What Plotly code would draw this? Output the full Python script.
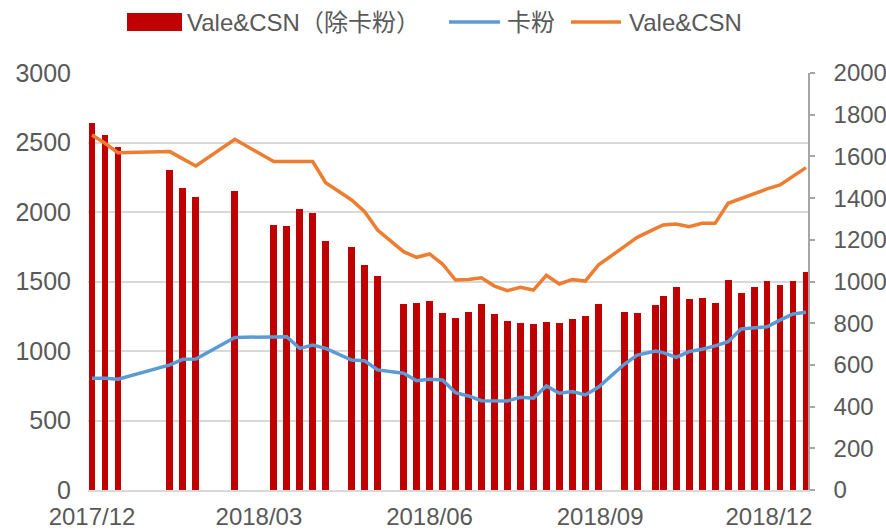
import plotly.graph_objects as go

dates = [
    "2017-12-01", "2017-12-08", "2017-12-15", "2018-01-12", "2018-01-19", "2018-01-26",
    "2018-02-16", "2018-03-09", "2018-03-16", "2018-03-23", "2018-03-30", "2018-04-06",
    "2018-04-20", "2018-04-27", "2018-05-04", "2018-05-18", "2018-05-25", "2018-06-01",
    "2018-06-08", "2018-06-15", "2018-06-22", "2018-06-29", "2018-07-06", "2018-07-13",
    "2018-07-20", "2018-07-27", "2018-08-03", "2018-08-10", "2018-08-17", "2018-08-24",
    "2018-08-31", "2018-09-14", "2018-09-21", "2018-10-01", "2018-10-05", "2018-10-12",
    "2018-10-19", "2018-10-26", "2018-11-02", "2018-11-09", "2018-11-16", "2018-11-23",
    "2018-11-30", "2018-12-07", "2018-12-14", "2018-12-21",
]

vale_csn_ex = [
    2640, 2553, 2465, 2302, 2170, 2105, 2153, 1908, 1901, 2024, 1995, 1793,
    1746, 1618, 1541, 1336, 1347, 1362, 1276, 1235, 1283, 1338, 1264, 1216,
    1204, 1194, 1206, 1199, 1230, 1254, 1340, 1278, 1275, 1331, 1395, 1458,
    1372, 1381, 1343, 1510, 1415, 1463, 1503, 1475, 1503, 1570,
]

kafen = [
    536, 536, 531, 600, 627, 628, 732, 732, 735, 679, 695, 679,
    623, 620, 576, 560, 524, 531, 528, 467, 451, 428, 428, 427,
    445, 440, 499, 464, 472, 456, 493, 603, 647, 667, 659, 636,
    664, 675, 691, 711, 772, 779, 783, 815, 844, 852,
]

vale_csn = [
    1703, 1663, 1618, 1623, 1588, 1554, 1682, 1575, 1575, 1575, 1575, 1474,
    1391, 1335, 1247, 1143, 1116, 1132, 1084, 1007, 1010, 1018, 978, 956,
    972, 959, 1030, 988, 1010, 1002, 1079, 1167, 1212, 1255, 1271, 1276,
    1263, 1279, 1279, 1375, 1399, 1420, 1444, 1463, 1503, 1546,
]

x_tickvals = ["2017-12-01", "2018-03-01", "2018-06-01", "2018-09-01", "2018-12-01"]
left_ticks = [0, 500, 1000, 1500, 2000, 2500, 3000]
right_ticks = [0, 200, 400, 600, 800, 1000, 1200, 1400, 1600, 1800, 2000]

names = ["Vale&CSN（除卡粉）", "卡粉", "Vale&CSN"]
RED, BLUE, ORANGE = "#C00000", "#5B9BD5", "#ED7D31"
FONT = "Liberation Sans, Noto Sans CJK SC, sans-serif"
TXT = "#595959"

DAY_MS = 86400000

fig = go.Figure()
fig.add_trace(go.Bar(x=dates, y=vale_csn_ex, name=names[0], marker_color=RED,
                     marker_line_width=0, width=3.7 * DAY_MS, yaxis="y",
                     showlegend=False))
fig.add_trace(go.Scatter(x=dates, y=kafen, name=names[1], mode="lines",
                         line=dict(color=BLUE, width=3.5), yaxis="y2",
                         showlegend=False))
fig.add_trace(go.Scatter(x=dates, y=vale_csn, name=names[2], mode="lines",
                         line=dict(color=ORANGE, width=3.5), yaxis="y2",
                         showlegend=False))

# custom legend (pixel positions converted to paper coords)
L, R, T, B = 88, 808, 73, 490
W, H = R - L, B - T
def px(x):
    return (x - L) / W
def py(y):
    return (B - y) / H

shapes = [
    dict(type="rect", xref="paper", yref="paper", x0=px(127), x1=px(182),
         y0=py(31), y1=py(13), fillcolor=RED, line=dict(width=0)),
    dict(type="line", xref="paper", yref="paper", x0=px(449), x1=px(500),
         y0=py(22), y1=py(22), line=dict(color=BLUE, width=3.5)),
    dict(type="line", xref="paper", yref="paper", x0=px(571), x1=px(621),
         y0=py(22), y1=py(22), line=dict(color=ORANGE, width=3.5)),
]
annotations = [
    dict(text=names[0], xref="paper", yref="paper", x=px(185), y=py(22),
         xanchor="left", yanchor="middle", showarrow=False,
         font=dict(family=FONT, size=24, color=TXT)),
    dict(text=names[1], xref="paper", yref="paper", x=px(505), y=py(22),
         xanchor="left", yanchor="middle", showarrow=False,
         font=dict(family=FONT, size=24, color=TXT)),
    dict(text=names[2], xref="paper", yref="paper", x=px(627), y=py(22),
         xanchor="left", yanchor="middle", showarrow=False,
         font=dict(family=FONT, size=24, color=TXT)),
]

fig.update_layout(
    width=886, height=531,
    margin=dict(l=L, r=886 - R, t=T, b=531 - B, autoexpand=False),
    paper_bgcolor="white", plot_bgcolor="white",
    font=dict(family=FONT, size=24, color=TXT),
    bargap=0,
    shapes=shapes, annotations=annotations,
    xaxis=dict(
        type="date", automargin=False,
        range=["2017-11-28 20:00", "2018-12-22 02:00"],
        tickmode="array", tickvals=x_tickvals, tickformat="%Y/%m",
        showgrid=False, showline=True, linecolor="#d9d9d9", linewidth=1.5,
        ticks="", tickfont=dict(size=24, color=TXT), ticklabelstandoff=4,
        zeroline=False,
    ),
    yaxis=dict(
        automargin=False,
        range=[0, 3000], tickmode="array", tickvals=left_ticks,
        showgrid=True, gridcolor="#d9d9d9", gridwidth=1.5,
        showline=False, zeroline=False, ticks="",
        tickfont=dict(size=25, color=TXT), ticklabelstandoff=16,
    ),
    yaxis2=dict(
        automargin=False,
        range=[0, 2000], tickmode="array", tickvals=right_ticks,
        overlaying="y", side="right", showgrid=False, zeroline=False,
        showline=True, linecolor="#a6a6a6", linewidth=1.5,
        ticks="outside", ticklen=5, tickcolor="#a6a6a6", tickwidth=1.5,
        tickfont=dict(size=24, color=TXT), ticklabelstandoff=14,
    ),
)

fig.write_html(
    "out.html",
    config={"displayModeBar": False},
    post_script="document.body.style.margin='0';document.body.style.overflow='hidden';",
)
